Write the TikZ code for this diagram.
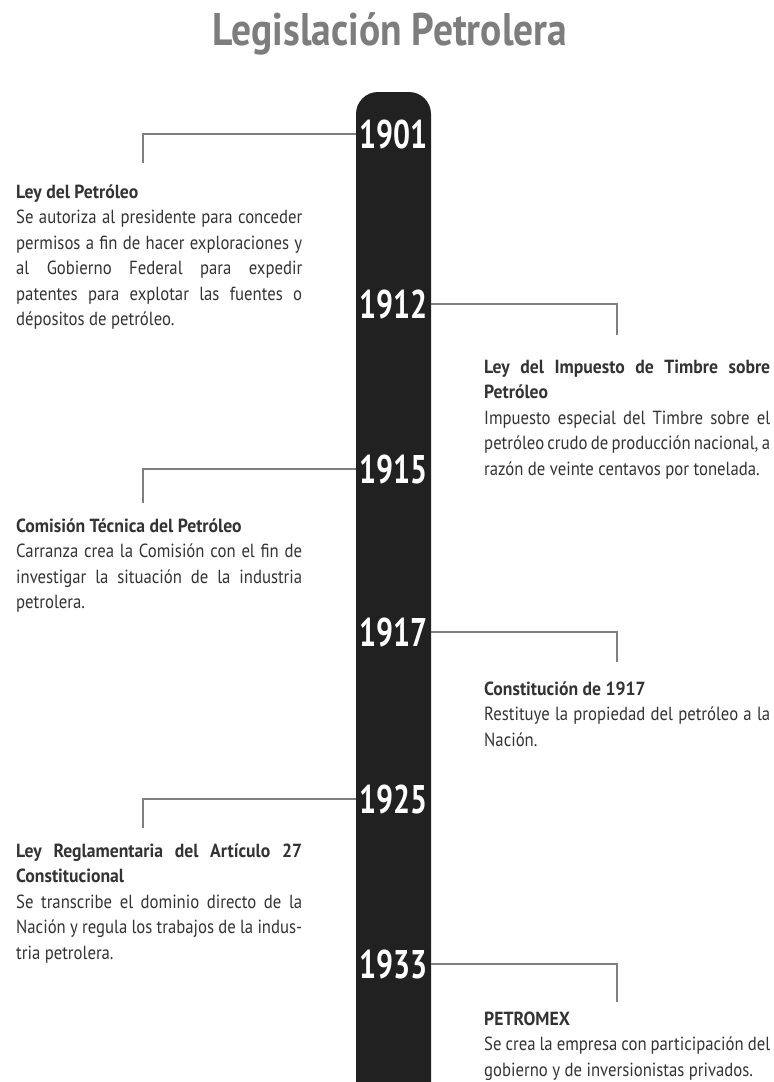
\documentclass[tikz,border=0pt]{standalone}
\usepackage{fontspec}
\usepackage{xcolor}
\setmainfont{PT Sans}[FakeStretch=0.88, WordSpace={1,1,1.6}]
\newfontfamily\headfont{PT Sans}[FakeStretch=0.93, WordSpace={1,1,1.6}]
\newfontfamily\titlefont{PT Sans}[FakeStretch=0.865]
\newfontfamily\yearfont{PT Sans}[FakeStretch=0.75]

\definecolor{linkgray}{HTML}{7F7F7F}
\definecolor{textgray}{HTML}{333333}
\definecolor{titlegray}{HTML}{7D7D7D}

\tikzset{
	yearlbl/.style={text=white, inner sep=0, minimum width=75, font=\yearfont\bfseries\fontsize{40}{40}\selectfont},
	link/.style={draw=linkgray, line width=2.5},
	entry/.style={anchor=north west, inner sep=0, text width=286, align=justify, text=textgray, font=\fontsize{19}{25.5}\selectfont},
}
\newcommand{\entryhead}[1]{{\headfont\bfseries #1}}

\begin{document}
\begin{tikzpicture}[x=1pt,y=-1pt]
	\useasboundingbox (0,0) rectangle (774,1082);

	\node[anchor=base, text=titlegray, inner sep=0, font=\titlefont\bfseries\fontsize{45.7}{46}\selectfont] (title) at (390,45) {Legislación Petrolera};

	% the bar
	\fill[black!87, rounded corners=22] (356,92) rectangle (431,1110);

	\node[yearlbl] (y1901) at (393.5,134) {1901};
	\node[yearlbl] (y1912) at (393.5,304) {1912};
	\node[yearlbl] (y1915) at (393.5,469) {1915};
	\node[yearlbl] (y1917) at (393.5,632) {1917};
	\node[yearlbl] (y1925) at (393.5,799) {1925};
	\node[yearlbl] (y1933) at (393.5,964) {1933};

	\coordinate (e1901) at (143,163);
	\coordinate (e1912) at (617,335);
	\coordinate (e1915) at (143,503);
	\coordinate (e1917) at (617,662);
	\coordinate (e1925) at (143,828);
	\coordinate (e1933) at (617,1002);

	\draw[link] (y1901.west) -| (e1901);
	\draw[link] (y1912.east) -| (e1912);
	\draw[link] (y1915.west) -| (e1915);
	\draw[link] (y1917.east) -| (e1917);
	\draw[link] (y1925.west) -| (e1925);
	\draw[link] (y1933.east) -| (e1933);

	\node[entry] (t1901) at (16,180) {\strut\entryhead{Ley del Petróleo}\\
		Se autoriza al presidente para conceder\linebreak
		permisos a fin de hacer exploraciones y\linebreak
		al Gobierno Federal para expedir\linebreak
		patentes para explotar las fuentes o\linebreak
		dépositos de petróleo.};
	\node[entry] (t1912) at (484,355) {\strut\entryhead{Ley del Impuesto de Timbre sobre\linebreak Petróleo}\\
		Impuesto especial del Timbre sobre el\linebreak
		petróleo crudo de producción nacional, a\linebreak
		razón de veinte centavos por tonelada.};
	\node[entry] (t1915) at (16,514) {\strut\entryhead{Comisión Técnica del Petróleo}\\
		Carranza crea la Comisión con el fin de\linebreak
		investigar la situación de la industria\linebreak
		petrolera.};
	\node[entry] (t1917) at (484,677) {\strut\entryhead{Constitución de 1917}\\
		Restituye la propiedad del petróleo a la\linebreak
		Nación.};
	\node[entry] (t1925) at (16,839) {\strut\entryhead{Ley Reglamentaria del Artículo 27\linebreak Constitucional}\\
		Se transcribe el dominio directo de la\linebreak
		Nación y regula los trabajos de la indus-\linebreak
		tria petrolera.};
	\node[entry] (t1933) at (484,1007) {\strut\entryhead{PETROMEX}\\
		Se crea la empresa con participación del\linebreak
		gobierno y de inversionistas privados.};
\end{tikzpicture}
\end{document}
